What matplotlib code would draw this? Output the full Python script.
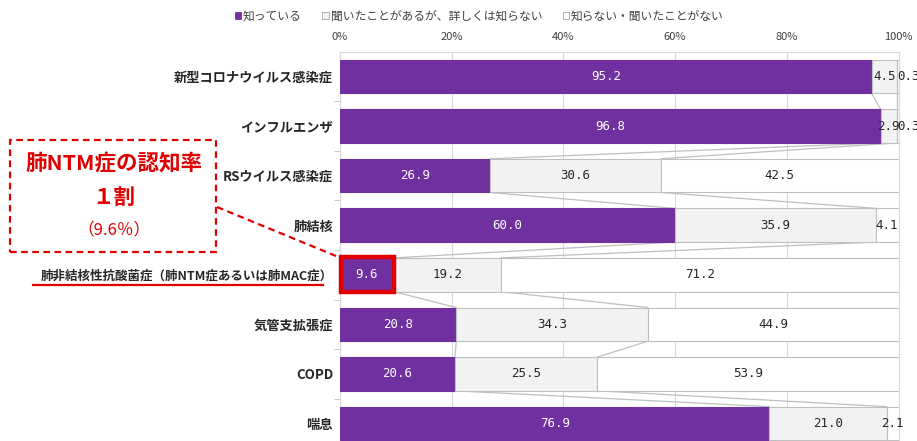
"""Recognition of respiratory diseases: stacked horizontal bar chart."""

import matplotlib
matplotlib.use("Agg")
import matplotlib.pyplot as plt
from matplotlib.patches import Patch, Rectangle
from matplotlib.lines import Line2D

plt.rcParams["font.family"] = ["Noto Sans CJK JP", "DejaVu Sans"]

categories = [
    "新型コロナウイルス感染症",
    "インフルエンザ",
    "RSウイルス感染症",
    "肺結核",
    "肺非結核性抗酸菌症（肺NTM症あるいは肺MAC症）",
    "気管支拡張症",
    "COPD",
    "喘息",
]
know = [95.2, 96.8, 26.9, 60.0, 9.6, 20.8, 20.6, 76.9]
heard = [4.5, 2.9, 30.6, 35.9, 19.2, 34.3, 25.5, 21.0]
unknown = [0.3, 0.3, 42.5, 4.1, 71.2, 44.9, 53.9, 2.1]
series_names = ["知っている", "聞いたことがあるが、詳しくは知らない", "知らない・聞いたことがない"]
xticks = [0, 20, 40, 60, 80, 100]
highlight = 4  # 肺NTM症 row

PURPLE = "#7030A0"
LGRAY = "#F2F2F2"
EDGE = "#BFBFBF"
RED = "#E00000"

W, H = 917, 441
fig = plt.figure(figsize=(W / 100, H / 100), dpi=100)
ax = fig.add_axes([340 / W, 0, (898.5 - 340) / W, 1 - 51.7 / H])

bh = 0.68
ys = list(range(len(categories)))
series = [know, heard, unknown]
fills = [PURPLE, LGRAY, "white"]
edges = [PURPLE, EDGE, EDGE]
lefts = [0.0] * len(categories)
for vals, fc, ec in zip(series, fills, edges):
    ax.barh(ys, vals, left=lefts, height=bh, color=fc, edgecolor=ec, linewidth=0.8, zorder=3)
    for y, v, l in zip(ys, vals, lefts):
        col = "white" if fc == PURPLE else "#262626"
        if v < 1:
            ax.text(l, y, f"{v:.1f}", ha="left", va="center", color=col,
                    fontsize=9, family="DejaVu Sans Mono", zorder=5, clip_on=False)
        else:
            ax.text(l + v / 2, y, f"{v:.1f}", ha="center", va="center", color=col,
                    fontsize=9, family="DejaVu Sans Mono", zorder=5, clip_on=False)
    lefts = [l + v for l, v in zip(lefts, vals)]

# series lines between bars
cum1 = know
cum2 = [a + b for a, b in zip(know, heard)]
for i in range(len(categories) - 1):
    for c in (cum1, cum2):
        ax.plot([c[i], c[i + 1]], [i + bh / 2, i + 1 - bh / 2], color="#BFBFBF",
                lw=0.9, zorder=2)

ax.set_xticks(xticks)
ax.set_xticklabels([f"{t}%" for t in xticks], fontsize=8, color="#404040")
ax.xaxis.tick_top()
ax.tick_params(axis="x", length=0, pad=7)
ax.set_yticks(ys)
ax.set_yticklabels(categories, fontsize=9.5, fontweight="bold", color="#262626")
ax.get_yticklabels()[highlight].set_fontsize(9.0)
ax.tick_params(axis="y", length=0, pad=5)
ax.set_yticks([y + 0.5 for y in ys], minor=True)
ax.tick_params(axis="y", which="minor", length=4, color="#BFBFBF", direction="out")
ax.set_xlim(0, 100)
ax.set_ylim((441 - 76.3) / 49.6, -0.5)
ax.grid(True, axis="x", color="#D9D9D9", lw=0.8, zorder=0)
for s in ax.spines.values():
    s.set_color("#D9D9D9")
ax.spines["bottom"].set_visible(False)

# highlight box on NTM bar
ax.add_patch(Rectangle((0.2, highlight - 0.35), know[highlight] - 0.1, 0.7, fill=False,
                       edgecolor=RED, lw=3.2, zorder=6, clip_on=False))

# legend
handles = [Patch(facecolor=f, edgecolor=e, lw=0.6) for f, e in zip(fills, ["#7030A0", "#A6A6A6", "#A6A6A6"])]
fig.legend(handles, series_names, loc="center left", bbox_to_anchor=(224 / W, 1 - 16 / H),
           ncol=3, frameon=False, fontsize=8.5, handlelength=0.55, handleheight=0.55,
           handletextpad=0.15, columnspacing=1.75, labelcolor="#404040")

# callout box
fig.patches.append(Rectangle((10 / W, 1 - 252 / H), 206 / W, 112 / H, fill=False,
                             edgecolor=RED, lw=1.6, ls=(0, (3, 2)),
                             transform=fig.transFigure, figure=fig))
fig.text(114 / W, 1 - 163 / H, "肺NTM症の認知率", ha="center", va="center",
         color=RED, fontsize=15.5, fontweight="bold")
fig.text(114 / W, 1 - 197 / H, "１割", ha="center", va="center",
         color=RED, fontsize=15.5, fontweight="bold")
fig.text(114 / W, 1 - 230 / H, "（9.6％）", ha="center", va="center",
         color=RED, fontsize=12)
fig.lines.append(Line2D([217 / W, 336 / W], [1 - 207 / H, 1 - 256 / H], color=RED,
                        lw=1.6, ls=(0, (3, 2)), transform=fig.transFigure))
fig.lines.append(Line2D([33 / W, 323 / W], [1 - 285 / H, 1 - 285 / H], color=RED,
                        lw=1.6, transform=fig.transFigure))

fig.savefig("out.png", dpi=100)
